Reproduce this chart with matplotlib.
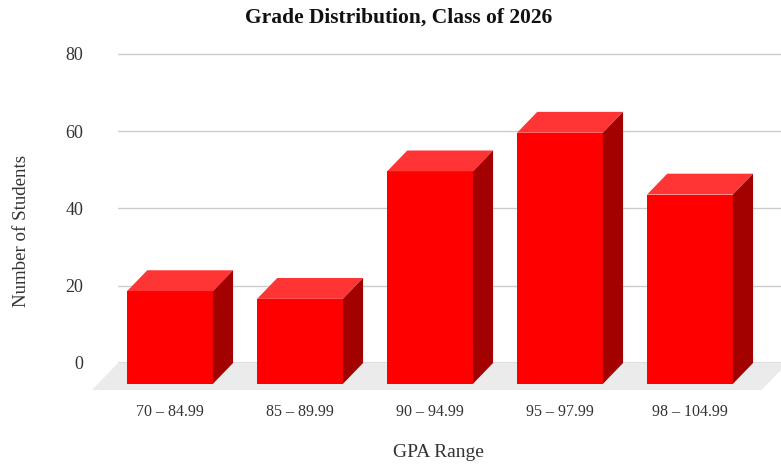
import matplotlib.pyplot as plt
from matplotlib.patches import Polygon

# dados
categories = ['70 – 84.99', '85 – 89.99', '90 – 94.99', '95 – 97.99', '98 – 104.99']
students = [24, 22, 55, 65, 49]
yticks = [0, 20, 40, 60, 80]

front_color = '#ff0000'
top_color = '#ff3434'
side_color = '#a30000'

# profundidade do efeito 3D (em unidades de dados)
depth_x = 0.155
depth_y = 5.4
half_w = 0.33

plt.rcParams['font.family'] = ['Liberation Serif', 'DejaVu Serif']

fig = plt.figure(figsize=(7.81, 4.66), dpi=100)
ax = fig.add_axes([118 / 781, 66 / 466, 663 / 781, 360 / 466])
ax.set_xlim(-0.4, 4.7)
ax.set_ylim(-9.58, 83.6)

# grade horizontal
for t in yticks:
    if t == 0:
        ax.axhline(t, color='#555555', lw=1, zorder=0)
    else:
        ax.axhline(t, color='#cccccc', lw=1, zorder=0)

# piso cinza
floor_front = -depth_y - 1.6
floor = Polygon([(-0.4, 0), (4.75, 0), (4.55, floor_front), (-0.6, floor_front)],
                closed=True, facecolor='#ebebeb', edgecolor='none', zorder=1, clip_on=False)
ax.add_patch(floor)

# barras 3D
for i, v in enumerate(students):
    x0, x1 = i - half_w, i + half_w
    y0, y1 = -depth_y, v - depth_y
    front = Polygon([(x0, y0), (x1, y0), (x1, y1), (x0, y1)], closed=True,
                    facecolor=front_color, edgecolor='none', zorder=3)
    top = Polygon([(x0, y1), (x1, y1), (x1 + depth_x, v), (x0 + depth_x, v)], closed=True,
                  facecolor=top_color, edgecolor='none', zorder=3)
    side = Polygon([(x1, y0), (x1 + depth_x, 0), (x1 + depth_x, v), (x1, y1)], closed=True,
                   facecolor=side_color, edgecolor='none', zorder=3)
    for p in (front, top, side):
        ax.add_patch(p)

ax.set_xticks(range(len(categories)))
ax.set_xticklabels(categories, fontsize=11.5, color='#333333')
ax.set_yticks(yticks)
ax.set_yticklabels([str(t) for t in yticks], fontsize=13, color='#333333')
ax.tick_params(axis='x', length=0, pad=3)
ax.tick_params(axis='y', length=0, pad=25)
for s in ax.spines.values():
    s.set_visible(False)

fig.text(0.51, 0.962, 'Grade Distribution, Class of 2026', ha='center', va='center',
         fontsize=15.5, fontweight='bold', color='#111111')
fig.text(0.562, 0.03, 'GPA Range', ha='center', va='center', fontsize=14, color='#333333')
fig.text(0.027, 0.504, 'Number of Students', ha='center', va='center', rotation=90,
         fontsize=13.6, color='#333333')

plt.savefig('out.png', dpi=100)
